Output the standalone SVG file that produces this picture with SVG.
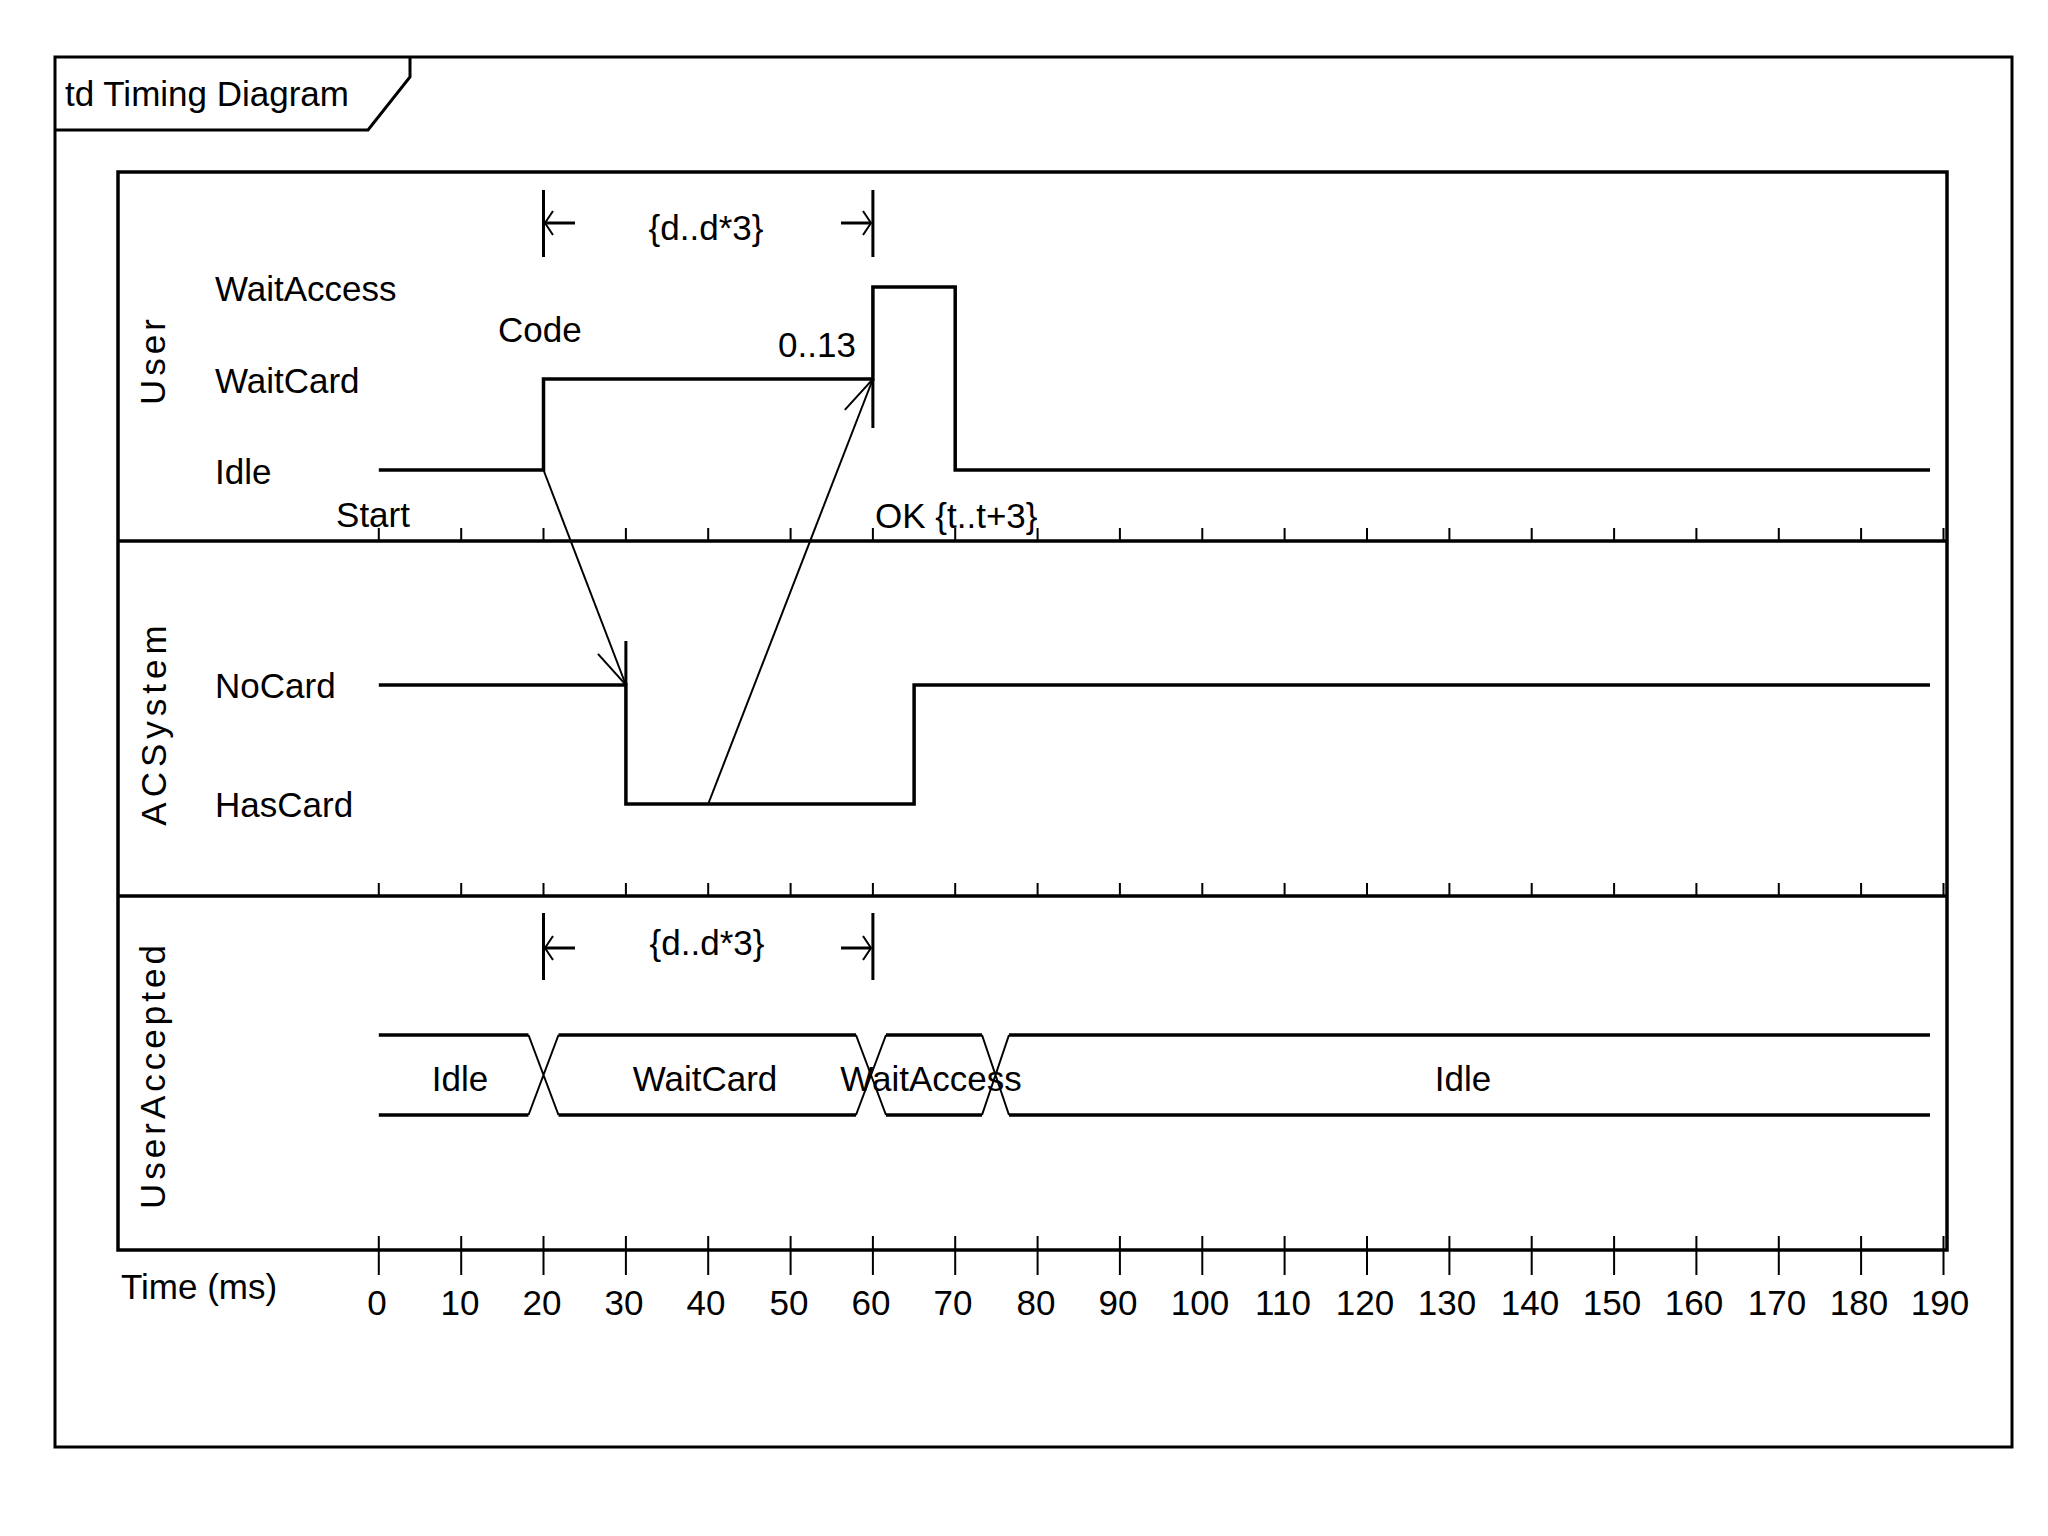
<svg xmlns="http://www.w3.org/2000/svg" width="2048" height="1536" viewBox="0 0 2048 1536">
<style>
text { font-family: "Liberation Sans", Arial, sans-serif; font-size: 35px; fill: #000; }
.frame { fill: none; stroke: #000; stroke-width: 3; }
.div { fill: none; stroke: #000; stroke-width: 3.5; }
.tl { fill: none; stroke: #000; stroke-width: 3.5; }
.thin { fill: none; stroke: #000; stroke-width: 2; }
.mid { fill: none; stroke: #000; stroke-width: 3; }
.rot { letter-spacing: 4px; text-anchor: middle; }
.c { text-anchor: middle; }
.msg { fill: none; stroke: #000; stroke-width: 2; marker-end: url(#open); }
.dimarrow { fill: none; stroke: #000; stroke-width: 3; marker-end: url(#dim); }
</style>
<defs>
<marker id="open" markerUnits="userSpaceOnUse" viewBox="-45 -20 50 40" markerWidth="50" markerHeight="40" refX="0" refY="0" orient="auto" overflow="visible">
<path d="M-39,-15 L0,0 L-39,15" fill="none" stroke="#000" stroke-width="2"/>
</marker>
<marker id="dim" markerUnits="userSpaceOnUse" viewBox="-12 -15 16 30" markerWidth="16" markerHeight="30" refX="0" refY="0" orient="auto" overflow="visible">
<path d="M-8,-12 L0,0 L-8,12" fill="none" stroke="#000" stroke-width="2"/>
</marker>
</defs>
<rect x="0" y="0" width="2048" height="1536" fill="#fff"/>

<g id="frame">
<rect class="frame" x="55" y="57" width="1957" height="1390"/>
<path class="frame" d="M55,130 H368 L410,77 V57"/>
<text x="65" y="106">td Timing Diagram</text>
<rect class="div" x="118" y="172" width="1829" height="1078"/>
<path class="div" d="M118,541 H1947 M118,896 H1947"/>
</g>

<g id="lane-user">
<text class="rot" transform="translate(165,360) rotate(-90)">User</text>
<text x="215" y="301">WaitAccess</text>
<text x="215" y="393">WaitCard</text>
<text x="215" y="484">Idle</text>
<path class="tl" d="M378.8,470 H543.5 V379 H872.9 V287 H955.2 V470 H1930"/>
<path class="mid" d="M872.9,379 V428"/>
<path class="thin" d="M378.8,528V541M461.2,528V541M543.5,528V541M625.9,528V541M708.2,528V541M790.6,528V541M872.9,528V541M955.2,528V541M1037.6,528V541M1119.9,528V541M1202.3,528V541M1284.6,528V541M1367,528V541M1449.4,528V541M1531.7,528V541M1614.1,528V541M1696.4,528V541M1778.8,528V541M1861.1,528V541M1943.5,528V541"/>
</g>

<g id="lane-acsystem">
<text class="rot" style="letter-spacing:5px" transform="translate(166,723) rotate(-90)">ACSystem</text>
<text x="215" y="698">NoCard</text>
<text x="215" y="817">HasCard</text>
<path class="tl" d="M378.8,685 H625.9 V804 H914.1 V685 H1930"/>
<path class="mid" d="M625.9,641 V685"/>
<path class="thin" d="M378.8,883V896M461.2,883V896M543.5,883V896M625.9,883V896M708.2,883V896M790.6,883V896M872.9,883V896M955.2,883V896M1037.6,883V896M1119.9,883V896M1202.3,883V896M1284.6,883V896M1367,883V896M1449.4,883V896M1531.7,883V896M1614.1,883V896M1696.4,883V896M1778.8,883V896M1861.1,883V896M1943.5,883V896"/>
</g>

<g id="lane-useraccepted">
<text class="rot" transform="translate(165,1075) rotate(-90)">UserAccepted</text>
<path class="tl" d="M378.8,1035 H528.5 M558.5,1035 H856 M886,1035 H982 M1009,1035 H1930 M378.8,1115 H528.5 M558.5,1115 H856 M886,1115 H982 M1009,1115 H1930"/>
<path class="thin" d="M528.5,1035 L558.5,1115 M528.5,1115 L558.5,1035 M856,1035 L886,1115 M856,1115 L886,1035 M982,1035 L1009,1115 M982,1115 L1009,1035"/>
<text class="c" x="460" y="1091">Idle</text>
<text class="c" x="705" y="1091">WaitCard</text>
<text class="c" x="931" y="1091">WaitAccess</text>
<text class="c" x="1463" y="1091">Idle</text>
</g>

<g id="time-axis">
<text x="121" y="1299">Time (ms)</text>
<path class="thin" d="M378.8,1236V1275M461.2,1236V1275M543.5,1236V1275M625.9,1236V1275M708.2,1236V1275M790.6,1236V1275M872.9,1236V1275M955.2,1236V1275M1037.6,1236V1275M1119.9,1236V1275M1202.3,1236V1275M1284.6,1236V1275M1367,1236V1275M1449.4,1236V1275M1531.7,1236V1275M1614.1,1236V1275M1696.4,1236V1275M1778.8,1236V1275M1861.1,1236V1275M1943.5,1236V1275"/>
<g class="c">
<text class="c" x="377" y="1315">0</text>
<text class="c" x="460" y="1315">10</text>
<text class="c" x="542" y="1315">20</text>
<text class="c" x="624" y="1315">30</text>
<text class="c" x="706" y="1315">40</text>
<text class="c" x="789" y="1315">50</text>
<text class="c" x="871" y="1315">60</text>
<text class="c" x="953" y="1315">70</text>
<text class="c" x="1036" y="1315">80</text>
<text class="c" x="1118" y="1315">90</text>
<text class="c" x="1200" y="1315">100</text>
<text class="c" x="1283" y="1315">110</text>
<text class="c" x="1365" y="1315">120</text>
<text class="c" x="1447" y="1315">130</text>
<text class="c" x="1530" y="1315">140</text>
<text class="c" x="1612" y="1315">150</text>
<text class="c" x="1694" y="1315">160</text>
<text class="c" x="1777" y="1315">170</text>
<text class="c" x="1859" y="1315">180</text>
<text class="c" x="1940" y="1315">190</text>
</g>
</g>

<g id="connectors">
<path class="msg" d="M543.5,470 L625.9,685"/>
<text x="498" y="342">Code</text>
<path class="msg" d="M708.2,804 L872.9,379"/>
<text x="778" y="357">0..13</text>
<text class="c" x="373" y="527">Start</text>
<text x="875" y="528">OK {t..t+3}</text>
<path class="mid" d="M543.5,190 V257 M872.9,190 V257"/>
<path class="dimarrow" d="M575,223 H545"/>
<path class="dimarrow" d="M841,223 H871"/>
<text class="c" x="706" y="240">{d..d*3}</text>
<path class="mid" d="M543.5,913 V980 M872.9,913 V980"/>
<path class="dimarrow" d="M575,948 H545"/>
<path class="dimarrow" d="M841,948 H871"/>
<text class="c" x="707" y="955">{d..d*3}</text>
</g>
</svg>
